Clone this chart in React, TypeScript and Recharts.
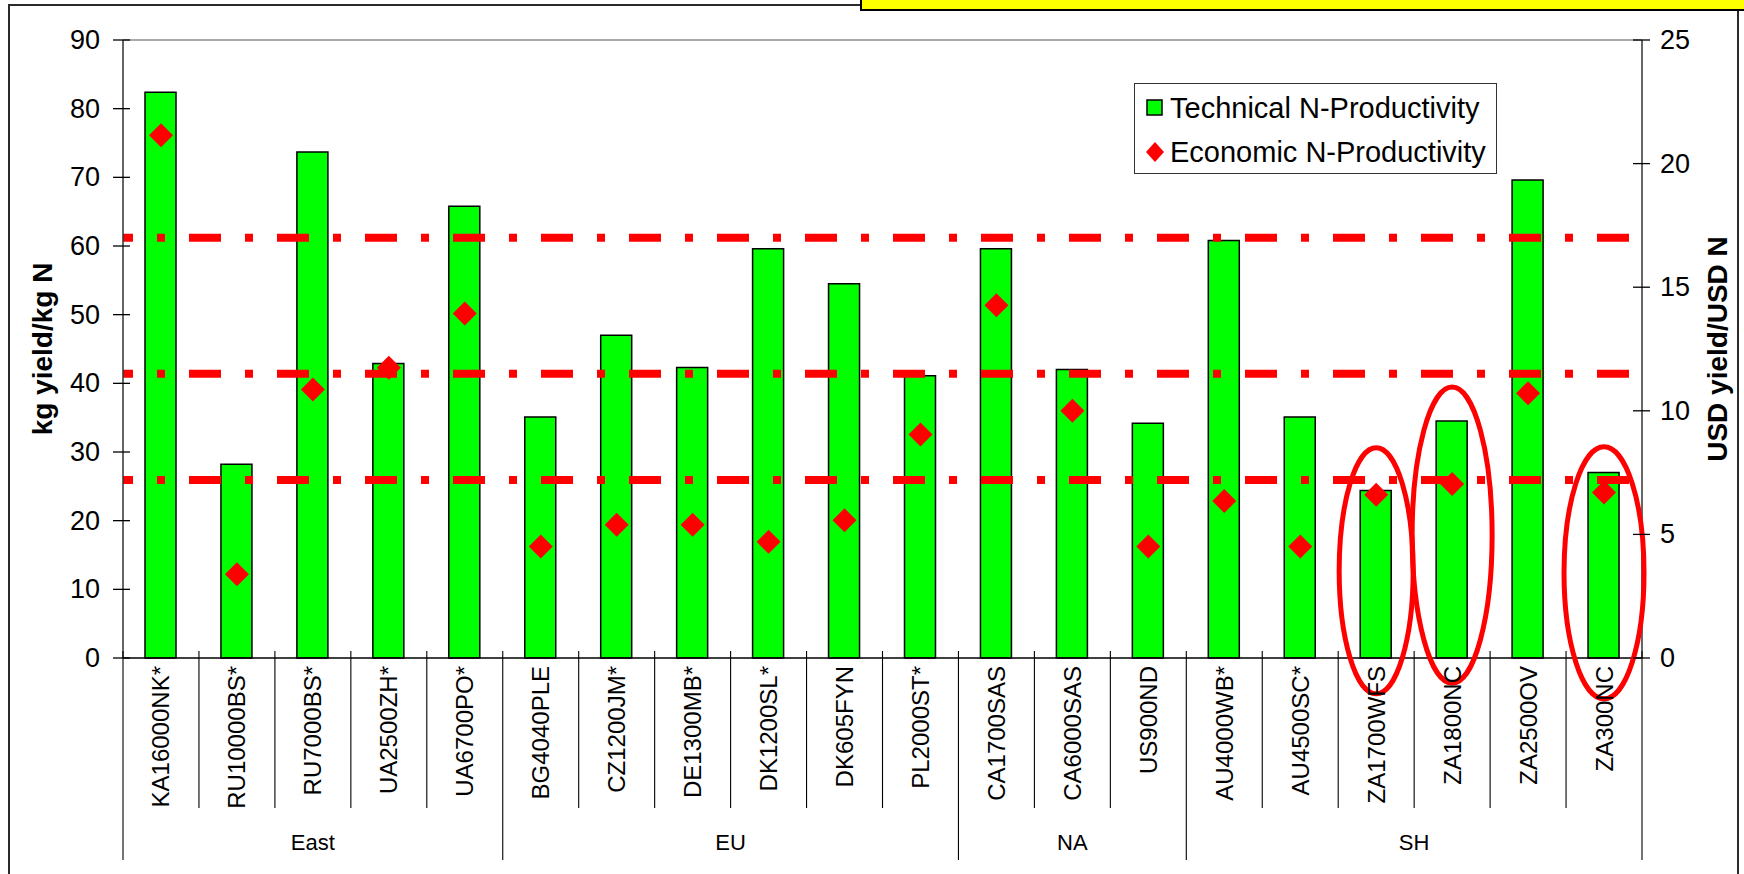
import React from 'react';
import {
  ComposedChart,
  Bar,
  Line,
  XAxis,
  YAxis,
  ReferenceLine,
  ReferenceDot,
  Legend,
} from 'recharts';

// ---------------- data ----------------
const categories = [
  'KA16000NK*', 'RU10000BS*', 'RU7000BS*', 'UA2500ZH*', 'UA6700PO*',
  'BG4040PLE', 'CZ1200JM*', 'DE1300MB*', 'DK1200SL*', 'DK605FYN', 'PL2000ST*',
  'CA1700SAS', 'CA6000SAS', 'US900ND',
  'AU4000WB*', 'AU4500SC*', 'ZA1700WFS', 'ZA1800NC', 'ZA2500OV', 'ZA300NC',
];
const regions = [
  'East', 'East', 'East', 'East', 'East',
  'EU', 'EU', 'EU', 'EU', 'EU', 'EU',
  'NA', 'NA', 'NA',
  'SH', 'SH', 'SH', 'SH', 'SH', 'SH',
];
const technicalProductivity = [
  82.4, 28.2, 73.7, 42.9, 65.8,
  35.1, 47.0, 42.3, 59.6, 54.5, 41.1,
  59.6, 42.0, 34.2,
  60.8, 35.1, 24.4, 34.5, 69.6, 27.0,
];
const economicProductivity = [
  21.15, 3.39, 10.86, 11.74, 13.94,
  4.51, 5.39, 5.39, 4.70, 5.57, 9.04,
  14.27, 10.0, 4.51,
  6.35, 4.51, 6.6, 7.04, 10.71, 6.70,
];
const thresholdLevels = [17.0, 11.5, 7.2]; // USD yield / USD N
const leftTicks = [0, 10, 20, 30, 40, 50, 60, 70, 80, 90];
const rightTicks = [0, 5, 10, 15, 20, 25];
const highlightedFarms = ['ZA1700WFS', 'ZA1800NC', 'ZA300NC'];
const highlightCenters = [12.7, 17.9, 12.4]; // kg yield/kg N

const data = categories.map((c, i) => ({
  category: c,
  region: regions[i],
  technical: technicalProductivity[i],
  economic: economicProductivity[i],
}));

// ---------------- layout / style ----------------
const FONT = '"Liberation Sans", Arial, Helvetica, sans-serif';
const W = 1744;
const H = 874;
const MARGIN = { top: 40, right: 0, bottom: 0, left: 10 };
const LEFT_AXIS_W = 113;
const RIGHT_AXIS_W = 102;
const X_AXIS_H = 216;
const PLOT_W = W - MARGIN.left - MARGIN.right - LEFT_AXIS_W - RIGHT_AXIS_W;
const BAND = PLOT_W / categories.length;
const ELLIPSE_SIZES = [
  { rx: 37, ry: 123 },
  { rx: 40, ry: 148 },
  { rx: 40, ry: 126 },
];

const LeftTick = (p: any) => (
  <g>
    <line x1={p.x + 13} x2={p.x + 30} y1={p.y} y2={p.y} stroke="#000" strokeWidth={1.3} />
    <text
      x={p.x}
      y={p.y}
      textAnchor="end"
      dominantBaseline="central"
      fontFamily={FONT}
      fontSize={27}
      fill="#000"
    >
      {p.payload.value}
    </text>
  </g>
);

const RightTick = (p: any) => (
  <g>
    <line x1={p.x - 27} x2={p.x - 10} y1={p.y} y2={p.y} stroke="#000" strokeWidth={1.3} />
    <text
      x={p.x}
      y={p.y}
      textAnchor="start"
      dominantBaseline="central"
      fontFamily={FONT}
      fontSize={27}
      fill="#000"
    >
      {p.payload.value}
    </text>
  </g>
);

const CategoryTick = (p: any) => {
  const i: number = p.payload.index ?? categories.indexOf(p.payload.value);
  const x: number = p.x;
  const y: number = p.y;
  const left = x - BAND / 2;
  const right = x + BAND / 2;
  const groupStart = i === 0 || regions[i] !== regions[i - 1];
  const isLast = i === categories.length - 1;
  let groupCount = 0;
  if (groupStart) {
    for (let k = i; k < regions.length && regions[k] === regions[i]; k++) groupCount++;
  }
  return (
    <g>
      <line
        x1={left}
        x2={left}
        y1={y - 7}
        y2={groupStart ? y + 202 : y + 150}
        stroke="#000"
        strokeWidth={1.1}
      />
      {isLast && (
        <line x1={right} x2={right} y1={y - 7} y2={y + 202} stroke="#000" strokeWidth={1.1} />
      )}
      <text
        transform={`translate(${x},${y + 8}) rotate(-90)`}
        textAnchor="end"
        dominantBaseline="central"
        fontFamily={FONT}
        fontSize={24}
        fill="#000"
      >
        {p.payload.value}
      </text>
      {groupStart && (
        <text
          x={left + (groupCount * BAND) / 2}
          y={y + 184}
          textAnchor="middle"
          dominantBaseline="central"
          fontFamily={FONT}
          fontSize={22}
          fill="#000"
        >
          {regions[i]}
        </text>
      )}
    </g>
  );
};

const Diamond = (p: any) => {
  const { cx, cy, index } = p;
  if (cx == null || cy == null) return <g key={`d-${index}`} />;
  const h = 12;
  return (
    <polygon
      key={`d-${index}`}
      points={`${cx},${cy - h} ${cx + h},${cy} ${cx},${cy + h} ${cx - h},${cy}`}
      fill="#FF0000"
      stroke="none"
    />
  );
};

const LegendBox = (props: any) => {
  const payload = [...(props.payload || [])].sort(
    (a: any, b: any) => (a.type === 'square' ? 0 : 1) - (b.type === 'square' ? 0 : 1),
  );
  return (
    <div
      style={{
        width: 363,
        height: 91,
        boxSizing: 'border-box',
        border: '1.5px solid #333',
        background: '#fff',
        padding: '2px 0 0 10px',
        fontFamily: FONT,
        fontSize: 29,
        color: '#000',
      }}
    >
      {payload.map((entry: any, i: number) => (
        <div key={i} style={{ display: 'flex', alignItems: 'center', height: 44 }}>
          <svg width={20} height={22} style={{ flex: '0 0 auto' }}>
            {entry.type === 'diamond' ? (
              <polygon points="10,1 19,11 10,21 1,11" fill="#FF0000" />
            ) : (
              <rect x={2} y={3} width={15} height={15} fill="#00FF00" stroke="#000" strokeWidth={1.5} />
            )}
          </svg>
          <span style={{ marginLeft: 5, whiteSpace: 'nowrap', lineHeight: '29px' }}>{entry.value}</span>
        </div>
      ))}
    </div>
  );
};

const axisTitle = (text: string, dx: number) => (p: any) => {
  const vb = p.viewBox || {};
  const cx = (vb.x ?? 0) + dx;
  const cy = (vb.y ?? 0) + (vb.height ?? 0) / 2;
  return (
    <text
      x={cx}
      y={cy}
      transform={`rotate(-90, ${cx}, ${cy})`}
      textAnchor="middle"
      dominantBaseline="central"
      fontFamily={FONT}
      fontWeight="bold"
      fontSize={28}
      fill="#000"
    >
      {text}
    </text>
  );
};

export default function App() {
  return (
    <div
      style={{
        position: 'absolute',
        left: 0,
        top: 0,
        width: W,
        height: H,
        overflow: 'hidden',
        background: '#fff',
      }}
    >
      <div
        style={{
          position: 'absolute',
          left: 8,
          top: 4,
          width: 1731,
          height: 920,
          boxSizing: 'border-box',
          border: '2px solid #2a2a2a',
        }}
      />
      <div
        style={{
          position: 'absolute',
          left: 860,
          top: -30,
          width: 920,
          height: 41,
          boxSizing: 'border-box',
          background: '#FFFF00',
          border: '2px solid #000',
        }}
      />
      <div style={{ position: 'absolute', left: 0, top: 0 }}>
        <ComposedChart width={W} height={H} data={data} margin={MARGIN} barGap={0}>
          <XAxis
            dataKey="category"
            xAxisId={0}
            height={X_AXIS_H}
            interval={0}
            tickLine={false}
            tickSize={0}
            tickMargin={0}
            axisLine={{ stroke: '#000', strokeWidth: 1.5 }}
            tick={<CategoryTick />}
          />
          <YAxis
            yAxisId="left"
            orientation="left"
            width={LEFT_AXIS_W}
            domain={[0, 90]}
            ticks={leftTicks}
            interval={0}
            tickLine={false}
            tickSize={10}
            tickMargin={13}
            axisLine={{ stroke: '#333', strokeWidth: 1.5 }}
            tick={<LeftTick />}
            label={{ content: axisTitle('kg yield/kg N', 32) }}
          />
          <YAxis
            yAxisId="right"
            orientation="right"
            width={RIGHT_AXIS_W}
            domain={[0, 25]}
            ticks={rightTicks}
            interval={0}
            tickLine={false}
            tickSize={8}
            tickMargin={10}
            axisLine={{ stroke: '#333', strokeWidth: 1.5 }}
            tick={<RightTick />}
            label={{ content: axisTitle('USD yield/USD N', 75) }}
          />
          <ReferenceLine yAxisId="left" y={90} stroke="#8c8c8c" strokeWidth={1.5} />
          <Bar
            yAxisId="left"
            dataKey="technical"
            name="Technical N-Productivity"
            fill="#00FF00"
            stroke="#000"
            strokeWidth={1.5}
            barSize={31}
            legendType="square"
            isAnimationActive={false}
          />
          {thresholdLevels.map((t) => (
            <ReferenceLine
              key={`t-${t}`}
              yAxisId="right"
              y={t}
              stroke="#FF0000"
              strokeWidth={8}
              strokeDasharray="32 24 8 24"
              strokeDashoffset={75}
            />
          ))}
          <Line
            yAxisId="right"
            dataKey="economic"
            name="Economic N-Productivity"
            stroke="none"
            strokeWidth={0}
            dot={(p: any) => <Diamond {...p} key={`dot-${p.index}`} />}
            activeDot={false}
            legendType="diamond"
            isAnimationActive={false}
          />
          {highlightedFarms.map((farm, i) => (
            <ReferenceDot
              key={`e-${farm}`}
              yAxisId="left"
              x={farm}
              y={highlightCenters[i]}
              r={1}
              ifOverflow="visible"
              shape={(p: any) => (
                <ellipse
                  cx={p.cx}
                  cy={p.cy}
                  rx={ELLIPSE_SIZES[i].rx}
                  ry={ELLIPSE_SIZES[i].ry}
                  fill="none"
                  stroke="#FF0000"
                  strokeWidth={5}
                />
              )}
            />
          ))}
          <Legend
            layout="vertical"
            align="center"
            verticalAlign="middle"
            wrapperStyle={{ left: 1134, top: 83, width: 363, height: 91 }}
            content={<LegendBox />}
          />
        </ComposedChart>
      </div>
    </div>
  );
}
